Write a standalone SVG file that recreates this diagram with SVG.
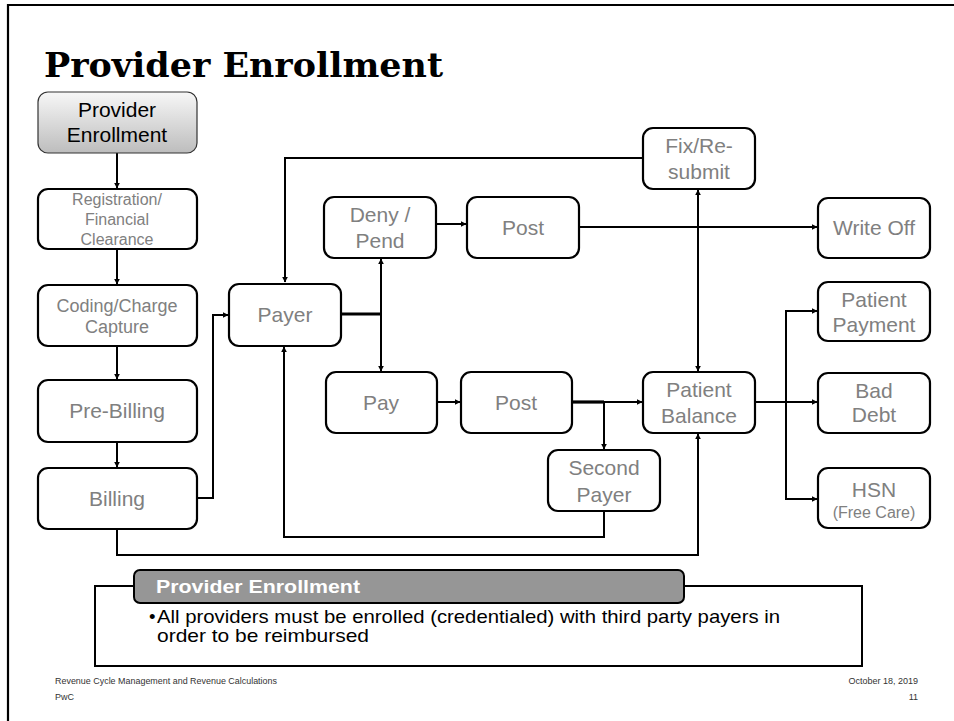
<svg xmlns="http://www.w3.org/2000/svg" width="954" height="721" viewBox="0 0 954 721">
  <style>
    .box { fill: #ffffff; stroke: #000000; stroke-width: 2.2; }
    .lbl { font-family: "Liberation Sans", Arial, sans-serif; font-size: 21px; fill: #808080; text-anchor: middle; }
    .sm { font-size: 16px; }
    .mid { font-size: 18px; }
    .wire { fill: none; stroke: #000000; stroke-width: 2; }
    .thick { fill: none; stroke: #000000; stroke-width: 3.2; }
    .foot { font-family: "Liberation Sans", Arial, sans-serif; font-size: 9px; fill: #333333; }
    .note { font-family: "Liberation Sans", Arial, sans-serif; font-size: 18.5px; fill: #000000; }
  </style>
  <defs>
    <linearGradient id="gradTop" x1="0" y1="0" x2="0" y2="1">
      <stop offset="0" stop-color="#f7f7f7"/>
      <stop offset="1" stop-color="#bdbdbd"/>
    </linearGradient>
    <marker id="arrow" viewBox="0 0 10 10" refX="9" refY="5" markerWidth="6" markerHeight="6" markerUnits="userSpaceOnUse" orient="auto-start-reverse">
      <path d="M0,0 L10,5 L0,10 Z" fill="#000000"/>
    </marker>
  </defs>

  <rect width="954" height="721" fill="#ffffff"/>

  <!-- slide frame -->
  <path d="M8,721 V5 H954" fill="none" stroke="#000000" stroke-width="2.2"/>

  <!-- title -->
  <text x="44" y="77" font-family="DejaVu Serif, 'Liberation Serif', serif" font-weight="bold" font-size="33" textLength="399" lengthAdjust="spacingAndGlyphs" fill="#000000">Provider Enrollment</text>

  <!-- connectors -->
  <g id="connectors">
    <path class="wire" d="M117,153 V188" marker-end="url(#arrow)"/>
    <path class="wire" d="M117,249 V284" marker-end="url(#arrow)"/>
    <path class="wire" d="M117,346 V379" marker-end="url(#arrow)"/>
    <path class="wire" d="M117,442 V467" marker-end="url(#arrow)"/>
    <path class="wire" d="M197,498 H213 V315 H228" marker-end="url(#arrow)"/>
    <path class="wire" d="M643,158 H285 V282" marker-end="url(#arrow)"/>
    <path class="thick" d="M340,314 H381"/>
    <path class="wire" d="M381,314 V259" marker-end="url(#arrow)"/>
    <path class="wire" d="M381,314 V371" marker-end="url(#arrow)"/>
    <path class="wire" d="M436,224 H466" marker-end="url(#arrow)"/>
    <path class="wire" d="M579,227 H817" marker-end="url(#arrow)"/>
    <path class="wire" d="M437,402 H460" marker-end="url(#arrow)"/>
    <path class="thick" d="M572,402 H604"/>
    <path class="wire" d="M604,402 H642" marker-end="url(#arrow)"/>
    <path class="wire" d="M604,402 V449" marker-end="url(#arrow)"/>
    <path class="wire" d="M698,190 V371" marker-start="url(#arrow)" marker-end="url(#arrow)"/>
    <path class="wire" d="M755,402 H817" marker-end="url(#arrow)"/>
    <path class="wire" d="M786,402 V311 H817" marker-end="url(#arrow)"/>
    <path class="wire" d="M786,402 V499 H817" marker-end="url(#arrow)"/>
    <path class="wire" d="M604,511 V537 H284 V347" marker-end="url(#arrow)"/>
    <path class="wire" d="M117,529 V555 H698 V434" marker-end="url(#arrow)"/>
  </g>

  <!-- nodes -->
  <g id="provider-enrollment">
    <rect x="38" y="92" width="159" height="61" rx="10" fill="url(#gradTop)" stroke="#333333" stroke-width="1.2"/>
    <text class="lbl" x="117" y="117" style="fill:#000000">Provider</text>
    <text class="lbl" x="117" y="142" style="fill:#000000">Enrollment</text>
  </g>
  <g id="registration">
    <rect class="box" x="38" y="189" width="159" height="60" rx="10"/>
    <text class="lbl sm" x="117" y="205">Registration/</text>
    <text class="lbl sm" x="117" y="225">Financial</text>
    <text class="lbl sm" x="117" y="245">Clearance</text>
  </g>
  <g id="coding">
    <rect class="box" x="38" y="285" width="159" height="61" rx="10"/>
    <text class="lbl mid" x="117" y="312">Coding/Charge</text>
    <text class="lbl mid" x="117" y="333">Capture</text>
  </g>
  <g id="pre-billing">
    <rect class="box" x="38" y="380" width="159" height="62" rx="10"/>
    <text class="lbl" x="117" y="418">Pre-Billing</text>
  </g>
  <g id="billing">
    <rect class="box" x="38" y="468" width="159" height="61" rx="10"/>
    <text class="lbl" x="117" y="506">Billing</text>
  </g>
  <g id="payer">
    <rect class="box" x="229" y="284" width="112" height="62" rx="10"/>
    <text class="lbl" x="285" y="322">Payer</text>
  </g>
  <g id="deny-pend">
    <rect class="box" x="324" y="197" width="112" height="61" rx="10"/>
    <text class="lbl" x="380" y="222">Deny /</text>
    <text class="lbl" x="380" y="248">Pend</text>
  </g>
  <g id="post-denied">
    <rect class="box" x="467" y="197" width="112" height="61" rx="10"/>
    <text class="lbl" x="523" y="235">Post</text>
  </g>
  <g id="fix-resubmit">
    <rect class="box" x="643" y="128" width="112" height="61" rx="10"/>
    <text class="lbl" x="699" y="153">Fix/Re-</text>
    <text class="lbl" x="699" y="179">submit</text>
  </g>
  <g id="write-off">
    <rect class="box" x="818" y="198" width="112" height="60" rx="10"/>
    <text class="lbl" x="874" y="235">Write Off</text>
  </g>
  <g id="pay">
    <rect class="box" x="326" y="372" width="111" height="61" rx="10"/>
    <text class="lbl" x="381" y="410">Pay</text>
  </g>
  <g id="post-paid">
    <rect class="box" x="461" y="372" width="111" height="61" rx="10"/>
    <text class="lbl" x="516" y="410">Post</text>
  </g>
  <g id="patient-balance">
    <rect class="box" x="643" y="372" width="112" height="61" rx="10"/>
    <text class="lbl" x="699" y="397">Patient</text>
    <text class="lbl" x="699" y="423">Balance</text>
  </g>
  <g id="second-payer">
    <rect class="box" x="548" y="450" width="112" height="61" rx="10"/>
    <text class="lbl" x="604" y="475">Second</text>
    <text class="lbl" x="604" y="502">Payer</text>
  </g>
  <g id="patient-payment">
    <rect class="box" x="818" y="282" width="112" height="59" rx="10"/>
    <text class="lbl" x="874" y="307">Patient</text>
    <text class="lbl" x="874" y="332">Payment</text>
  </g>
  <g id="bad-debt">
    <rect class="box" x="818" y="373" width="112" height="60" rx="10"/>
    <text class="lbl" x="874" y="398">Bad</text>
    <text class="lbl" x="874" y="422">Debt</text>
  </g>
  <g id="hsn">
    <rect class="box" x="818" y="468" width="112" height="60" rx="10"/>
    <text class="lbl" x="874" y="497">HSN</text>
    <text class="lbl sm" x="874" y="518">(Free Care)</text>
  </g>

  <!-- note panel -->
  <g id="note">
    <rect x="95" y="586" width="767" height="80" fill="#ffffff" stroke="#000000" stroke-width="2"/>
    <rect x="134" y="570" width="550" height="33" rx="6" fill="#969696" stroke="#000000" stroke-width="2"/>
    <text x="156" y="593" font-family="'Liberation Sans', Arial, sans-serif" font-weight="bold" font-size="18" textLength="204" lengthAdjust="spacingAndGlyphs" fill="#ffffff">Provider Enrollment</text>
    <text class="note" x="149" y="623">•</text>
    <text class="note" x="157" y="623" textLength="623" lengthAdjust="spacingAndGlyphs">All providers must be enrolled (credentialed) with third party payers in</text>
    <text class="note" x="157" y="642" textLength="212" lengthAdjust="spacingAndGlyphs">order to be reimbursed</text>
  </g>

  <!-- footer -->
  <text class="foot" x="55" y="684" textLength="222" lengthAdjust="spacingAndGlyphs">Revenue Cycle Management and Revenue Calculations</text>
  <text class="foot" x="55" y="700">PwC</text>
  <text class="foot" x="918" y="684" text-anchor="end">October 18, 2019</text>
  <text class="foot" x="918" y="700" text-anchor="end">11</text>
</svg>
